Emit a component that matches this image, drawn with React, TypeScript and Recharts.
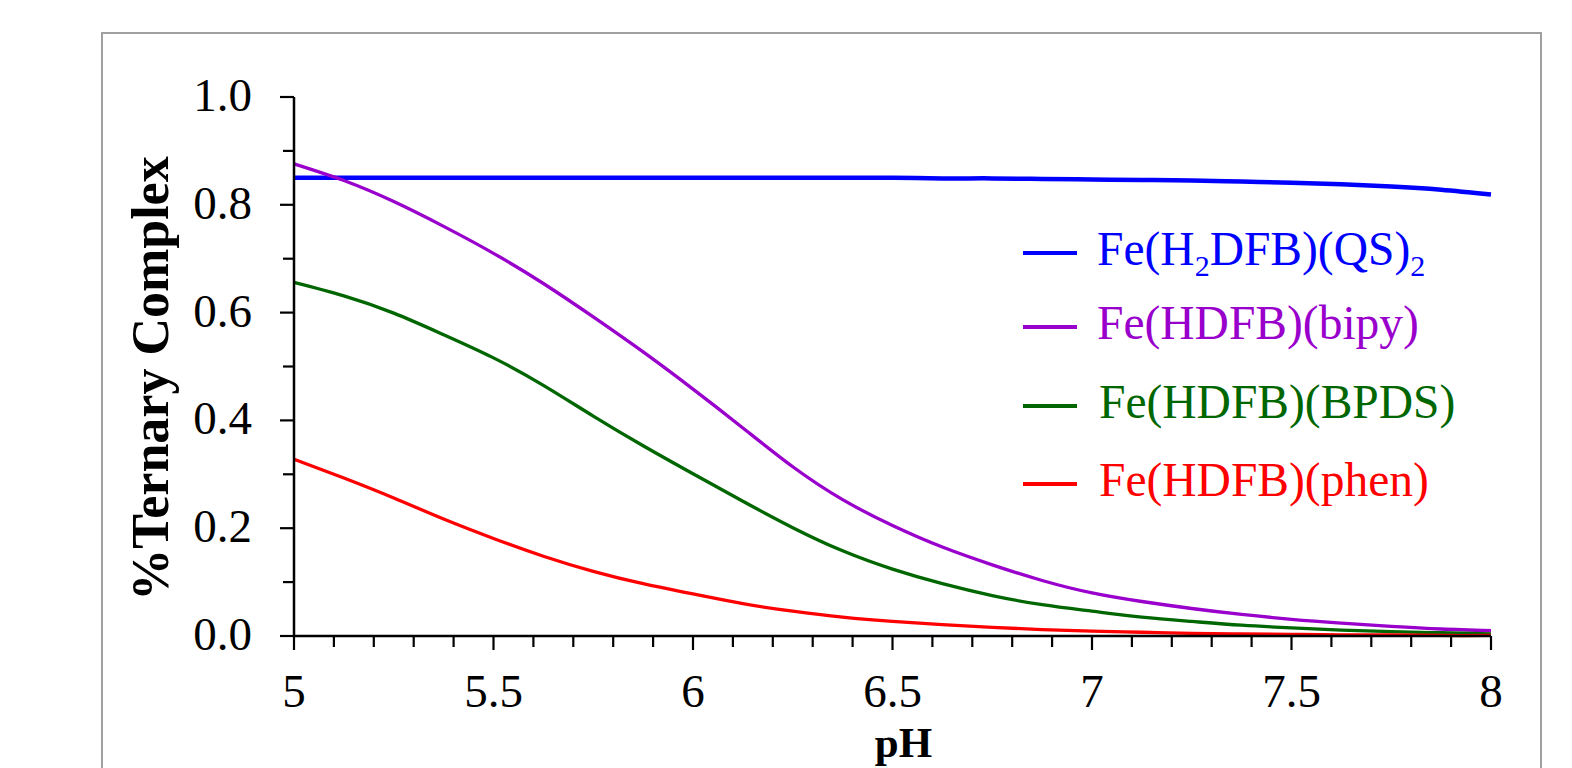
import { LineChart, Line, XAxis, YAxis, Legend } from 'recharts';

const FONT = '"Liberation Serif", "Times New Roman", serif';

// pH values
const pH = [5, 5.125, 5.25, 5.375, 5.5, 5.625, 5.75, 5.875, 6, 6.125, 6.25, 6.375, 6.5, 6.625, 6.75, 6.875, 7, 7.125, 7.25, 7.375, 7.5, 7.625, 7.75, 7.875, 8];

const qs = [0.85, 0.85, 0.85, 0.85, 0.85, 0.85, 0.85, 0.85, 0.85, 0.85, 0.85, 0.85, 0.85, 0.849, 0.849, 0.848, 0.847, 0.846, 0.845, 0.843, 0.841, 0.838, 0.834, 0.828, 0.819];
const bipy = [0.876, 0.845, 0.806, 0.76, 0.71, 0.654, 0.592, 0.527, 0.458, 0.386, 0.314, 0.253, 0.205, 0.165, 0.132, 0.103, 0.08, 0.064, 0.051, 0.04, 0.031, 0.024, 0.018, 0.013, 0.01];
const bpds = [0.656, 0.631, 0.599, 0.559, 0.516, 0.465, 0.408, 0.353, 0.301, 0.25, 0.201, 0.158, 0.124, 0.097, 0.075, 0.058, 0.046, 0.035, 0.027, 0.02, 0.015, 0.011, 0.008, 0.006, 0.004];
const phen = [0.328, 0.293, 0.256, 0.217, 0.181, 0.148, 0.12, 0.097, 0.078, 0.06, 0.046, 0.035, 0.027, 0.021, 0.016, 0.012, 0.009, 0.007, 0.005, 0.004, 0.003, 0.002, 0.002, 0.001, 0.001];

const xTicks = [5, 5.1, 5.2, 5.3, 5.4, 5.5, 5.6, 5.7, 5.8, 5.9, 6, 6.1, 6.2, 6.3, 6.4, 6.5, 6.6, 6.7, 6.8, 6.9, 7, 7.1, 7.2, 7.3, 7.4, 7.5, 7.6, 7.7, 7.8, 7.9, 8];
const yTicks = [0, 0.1, 0.2, 0.3, 0.4, 0.5, 0.6, 0.7, 0.8, 0.9, 1];

// label parts: [text, isSubscript]
const series = [
  { key: 'qs', color: '#0000FF', width: 4.5, label: [['Fe(H', false], ['2', true], ['DFB)(QS)', false], ['2', true]] },
  { key: 'bipy', color: '#9900CC', width: 3.3, label: [['Fe(HDFB)(bipy)', false]] },
  { key: 'bpds', color: '#006600', width: 3.3, label: [['Fe(HDFB)(BPDS)', false]] },
  { key: 'phen', color: '#FF0000', width: 3.3, label: [['Fe(HDFB)(phen)', false]] },
];

const data = pH.map((p, i) => ({ pH: p, qs: qs[i], bipy: bipy[i], bpds: bpds[i], phen: phen[i] }));

const XTick = (props: any) => {
  const { x, y, payload } = props;
  const v = payload.value;
  const major = Math.abs(v * 2 - Math.round(v * 2)) < 1e-6;
  return (
    <g>
      <line x1={x} x2={x} y1={y} y2={y + (major ? 14 : 11)} stroke="#000" strokeWidth={2.2} />
      {major && (
        <text x={x} y={y + 71} textAnchor="middle" fontSize={47} fontFamily={FONT} fill="#000">
          {String(v)}
        </text>
      )}
    </g>
  );
};

const YTick = (props: any) => {
  const { x, y, payload } = props;
  const v = payload.value;
  const major = Math.round(v * 10) % 2 === 0;
  return (
    <g>
      <line x1={x} x2={x - (major ? 14 : 11)} y1={y} y2={y} stroke="#000" strokeWidth={2.2} />
      {major && (
        <text x={x - 42} y={y + 14} textAnchor="end" fontSize={47} fontFamily={FONT} fill="#000">
          {v.toFixed(1)}
        </text>
      )}
    </g>
  );
};

const rowY = [33, 107, 186, 264];

const renderLegend = () => (
  <svg width={480} height={300}>
    {series.map((s, i) => (
      <g key={s.key}>
        <line x1={8} x2={62} y1={rowY[i]} y2={rowY[i]} stroke={s.color} strokeWidth={4} />
        <text x={i < 2 ? 82 : 84} y={rowY[i] + 12} fontSize={47.5} fontFamily={FONT} fill={s.color}>
          {s.label.map(([t, sub], j) => {
            const prevSub = j > 0 && s.label[j - 1][1];
            const dy = sub ? 11 : prevSub ? -11 : 0;
            return (
              <tspan key={j} dy={dy} fontSize={sub ? 30 : 47.5}>
                {t as string}
              </tspan>
            );
          })}
        </text>
      </g>
    ))}
  </svg>
);

export default function App() {
  return (
    <div style={{ position: 'relative', width: 1556, height: 800 }}>
      <div
        style={{
          position: 'absolute',
          left: 93,
          top: 24,
          width: 1437,
          height: 900,
          border: '2px solid #a0a0a0',
          pointerEvents: 'none',
        }}
      />
      <LineChart width={1556} height={800} data={data} margin={{ top: 89, right: 73, left: 0, bottom: 0 }}>
        <XAxis
          dataKey="pH"
          type="number"
          domain={[5, 8]}
          ticks={xTicks}
          interval={0}
          tickSize={0}
          tickMargin={0}
          tickLine={false}
          tick={<XTick />}
          height={172}
          axisLine={{ stroke: '#000', strokeWidth: 2.5 }}
          label={{
            content: ({ viewBox }: any) => (
              <text
                x={viewBox.x + viewBox.width / 2 + 11}
                y={viewBox.y + 121}
                textAnchor="middle"
                fontSize={43}
                fontWeight="bold"
                fontFamily={FONT}
                fill="#000"
              >
                pH
              </text>
            ),
          }}
        />
        <XAxis
          xAxisId="top"
          orientation="top"
          type="number"
          domain={[5, 8]}
          height={0}
          tick={false}
          tickLine={false}
          axisLine={{ stroke: '#000', strokeWidth: 2.5 }}
        />
        <YAxis
          type="number"
          domain={[0, 1]}
          ticks={yTicks}
          interval={0}
          tickSize={0}
          tickMargin={0}
          tickLine={false}
          tick={<YTick />}
          width={286}
          axisLine={{ stroke: '#000', strokeWidth: 2.5 }}
          label={{
            content: ({ viewBox }: any) => {
              const cx = viewBox.x + 142;
              const cy = viewBox.y + viewBox.height / 2 + 12;
              return (
                <text
                  x={cx}
                  y={cy}
                  transform={`rotate(-90 ${cx} ${cy})`}
                  textAnchor="middle"
                  dominantBaseline="central"
                  fontSize={52}
                  fontWeight="bold"
                  fontFamily={FONT}
                  fill="#000"
                >
                  %Ternary Complex
                </text>
              );
            },
          }}
        />
        <YAxis
          yAxisId="right"
          orientation="right"
          type="number"
          domain={[0, 1]}
          width={0}
          tick={false}
          tickLine={false}
          axisLine={{ stroke: '#000', strokeWidth: 2.5 }}
        />
        <Legend
          layout="vertical"
          align="center"
          verticalAlign="middle"
          content={renderLegend}
          wrapperStyle={{ left: 1007, top: 212, width: 480, height: 300 }}
        />
        {series.map((s) => (
          <Line
            key={s.key}
            dataKey={s.key}
            type="natural"
            stroke={s.color}
            strokeWidth={s.width}
            dot={false}
            activeDot={false}
            isAnimationActive={false}
          />
        ))}
      </LineChart>
    </div>
  );
}
